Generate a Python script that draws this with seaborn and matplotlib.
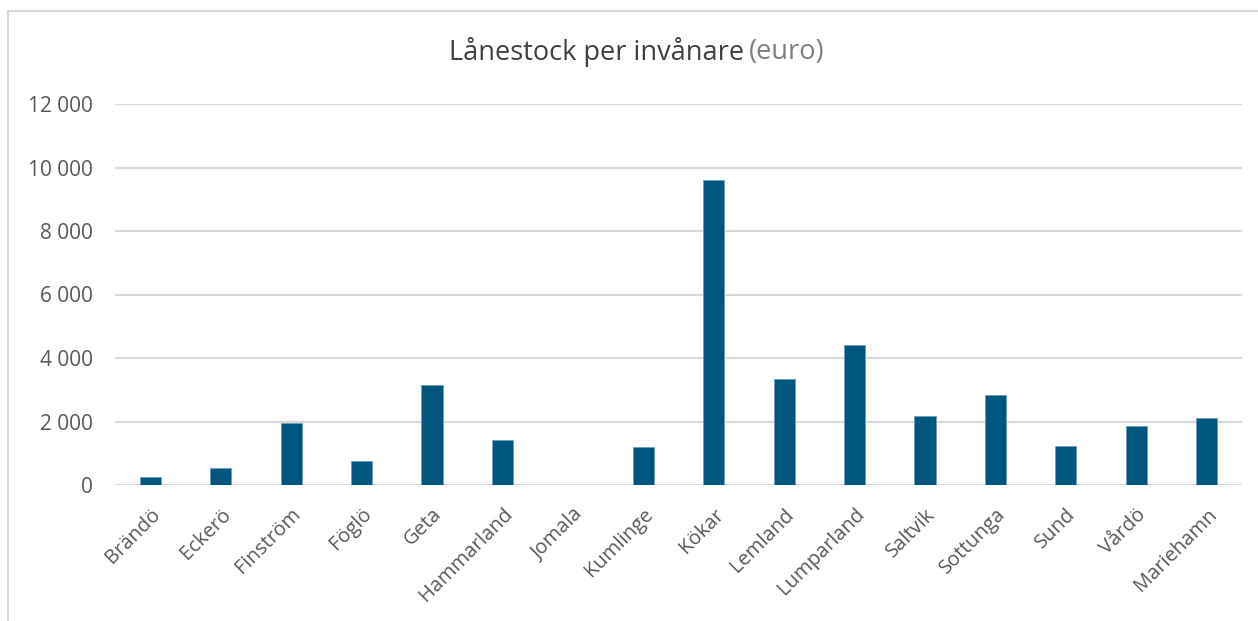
import matplotlib
matplotlib.use("Agg")
import matplotlib.pyplot as plt
from matplotlib.ticker import FuncFormatter, MultipleLocator
from matplotlib.patches import Rectangle
import seaborn as sns
import pandas as pd

categories = ["Brändö", "Eckerö", "Finström", "Föglö", "Geta", "Hammarland",
              "Jomala", "Kumlinge", "Kökar", "Lemland", "Lumparland", "Saltvik",
              "Sottunga", "Sund", "Vårdö", "Mariehamn"]
values = [250, 530, 1950, 760, 3140, 1410, 0, 1190, 9620, 3330, 4420, 2180,
          2850, 1220, 1860, 2105]

title_main = "Lånestock per invånare"
title_unit = "(euro)"

sns.set_style("white")
plt.rcParams["font.family"] = ["Open Sans", "DejaVu Sans"]

df = pd.DataFrame({"kommun": categories, "varde": values})

fig = plt.figure(figsize=(12.58, 6.21), dpi=100)
ax = fig.add_axes([115/1258, 1 - 485/621, (1242 - 115)/1258, (485 - 104)/621])

sns.barplot(data=df, x="kommun", y="varde", color="#00567f", width=0.3,
            saturation=1, ax=ax, edgecolor="#6f9fbd", linewidth=0.6)

ax.set_ylim(0, 12000)
ax.yaxis.set_major_locator(MultipleLocator(2000))
ax.yaxis.set_major_formatter(FuncFormatter(lambda v, p: f"{int(v):,}".replace(",", " ")))
ax.grid(axis="y", color="#d9d9d9", linewidth=1.6)
ax.set_axisbelow(True)
for s in ax.spines.values():
    s.set_visible(False)
ax.set_xlabel("")
ax.set_ylabel("")
ax.tick_params(axis="y", length=0, pad=16, labelsize=15, labelcolor="#595959")
ax.tick_params(axis="x", length=0, pad=14, labelsize=14.5, labelcolor="#595959")
for lab in ax.get_xticklabels():
    lab.set_rotation(45)
    lab.set_ha("right")
    lab.set_rotation_mode("anchor")

fig.text(744/1258, 1 - 52/621, title_main, ha="right", va="center",
         fontsize=19.5, color="#404040")
fig.text(749/1258, 1 - 52/621, title_unit, ha="left", va="center",
         fontsize=19.5, color="#7f7f7f")

fig.patches.append(Rectangle((8/1258, -0.1), 1.2, 1 - 11/621 + 0.1,
                             transform=fig.transFigure, fill=False,
                             edgecolor="#d9d9d9", linewidth=1.5))

fig.savefig("out.png", dpi=100)
